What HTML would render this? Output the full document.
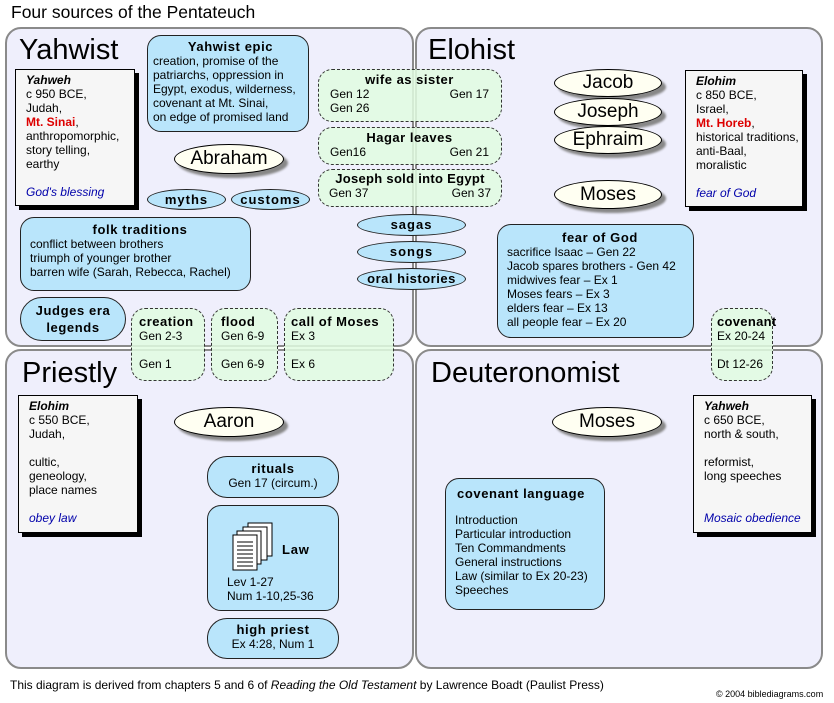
<!DOCTYPE html>
<html><head><meta charset="utf-8"><style>
*{margin:0;padding:0;box-sizing:border-box}
body{width:834px;height:703px;background:#fff;position:relative;font-family:"Liberation Sans",sans-serif;color:#000;overflow:hidden}
.a{position:absolute}
.q{position:absolute;background:#efeffc;border:2px solid #8a8a8a;border-radius:16px}
.t{position:absolute;font-size:29px;line-height:32px}
.info{position:absolute;background:#f6f6f6;border:1px solid #000;box-shadow:4px 4px 0 #000;font-size:12px;line-height:14px;padding:3px 0 0 10px}
.info b{font-style:italic}
.info .r{color:#d00;font-weight:bold}
.info .bl{color:#00a;font-style:italic}
.bb{position:absolute;background:#b9e5fb;border:1px solid #222;border-radius:14px;font-size:12px;line-height:14px}
.bb h{display:block;font-weight:bold;font-size:13px;text-align:center;letter-spacing:.6px}
.pill{position:absolute;background:#b9e5fb;border:1px solid #222;border-radius:50%;font-weight:bold;font-size:13px;text-align:center;letter-spacing:1px}
.g{position:absolute;background:rgba(224,252,224,.85);border:1px dashed #333;border-radius:14px;font-size:12px;line-height:14px}
.g h{display:block;font-weight:bold;font-size:13px;letter-spacing:.5px;white-space:nowrap}
.el{position:absolute;background:#fffff2;border:1px solid #000;border-radius:50%;box-shadow:4px 4px 2px #888;font-size:19px;text-align:center}
</style></head><body>
<div class="a" style="left:11px;top:2px;font-size:17.5px">Four sources of the Pentateuch</div>

<div class="q" style="left:5px;top:27px;width:409px;height:320px"></div>
<div class="q" style="left:415px;top:27px;width:408px;height:320px"></div>
<div class="q" style="left:5px;top:349px;width:409px;height:320px"></div>
<div class="q" style="left:415px;top:349px;width:408px;height:320px"></div>

<div class="t" style="left:19px;top:34px">Yahwist</div>
<div class="t" style="left:428px;top:34px">Elohist</div>
<div class="t" style="left:22px;top:357px">Priestly</div>
<div class="t" style="left:431px;top:357px">Deuteronomist</div>

<div class="info" style="left:15px;top:69px;width:120px;height:137px"><b>Yahweh</b><br>c 950 BCE,<br>Judah,<br><span class="r">Mt. Sinai</span>,<br>anthropomorphic,<br>story telling,<br>earthy<br><br><span class="bl">God's blessing</span></div>
<div class="info" style="left:685px;top:70px;width:118px;height:137px"><b>Elohim</b><br>c 850 BCE,<br>Israel,<br><span class="r">Mt. Horeb</span>,<br>historical traditions,<br>anti-Baal,<br>moralistic<br><br><span class="bl">fear of God</span></div>
<div class="info" style="left:18px;top:395px;width:120px;height:138px"><b>Elohim</b><br>c 550 BCE,<br>Judah,<br><br>cultic,<br>geneology,<br>place names<br><br><span class="bl">obey law</span></div>
<div class="info" style="left:693px;top:395px;width:119px;height:138px"><b>Yahweh</b><br>c 650 BCE,<br>north &amp; south,<br><br>reformist,<br>long speeches<br><br><br><span class="bl">Mosaic obedience</span></div>

<div class="bb" style="left:147px;top:35px;width:162px;height:97px;padding:4px 0 0 5px"><h>Yahwist epic</h>creation, promise of the<br>patriarchs, oppression in<br>Egypt, exodus, wilderness,<br>covenant at Mt. Sinai,<br>on edge of promised land</div>
<div class="el" style="left:174px;top:144px;width:110px;height:30px;line-height:28px">Abraham</div>
<div class="pill" style="left:147px;top:189px;width:79px;height:21px;line-height:19px">myths</div>
<div class="pill" style="left:231px;top:189px;width:79px;height:21px;line-height:19px">customs</div>
<div class="bb" style="left:20px;top:217px;width:231px;height:74px;padding:5px 0 0 9px"><h>folk traditions</h>conflict between brothers<br>triumph of younger brother<br>barren wife (Sarah, Rebecca, Rachel)</div>
<div class="bb" style="left:20px;top:297px;width:106px;height:44px;border-radius:22px;padding-top:4px"><h style="font-size:13px;line-height:17px">Judges era<br>legends</h></div>

<div class="g" style="left:318px;top:69px;width:184px;height:53px;padding:3px 12px 0 11px"><h style="text-align:center">wife as sister</h><span>Gen 12</span><span style="float:right">Gen 17</span><br>Gen 26</div>
<div class="g" style="left:318px;top:127px;width:184px;height:38px;padding:3px 12px 0 11px"><h style="text-align:center">Hagar leaves</h><span>Gen16</span><span style="float:right">Gen 21</span></div>
<div class="g" style="left:318px;top:169px;width:184px;height:38px;padding:2px 10px 0 10px"><h style="text-align:center;letter-spacing:.3px">Joseph sold into Egypt</h><span>Gen 37</span><span style="float:right">Gen 37</span></div>

<div class="pill" style="left:357px;top:214px;width:109px;height:22px;line-height:20px">sagas</div>
<div class="pill" style="left:357px;top:241px;width:109px;height:22px;line-height:20px">songs</div>
<div class="pill" style="left:357px;top:268px;width:109px;height:22px;line-height:20px;letter-spacing:.5px">oral histories</div>

<div class="g" style="left:131px;top:308px;width:74px;height:73px;padding:6px 0 0 7px"><h>creation</h>Gen 2-3<br><br>Gen 1</div>
<div class="g" style="left:211px;top:308px;width:67px;height:73px;padding:6px 0 0 9px"><h>flood</h>Gen 6-9<br><br>Gen 6-9</div>
<div class="g" style="left:284px;top:308px;width:110px;height:73px;padding:6px 0 0 6px"><h>call of Moses</h>Ex 3<br><br>Ex 6</div>
<div class="g" style="left:711px;top:308px;width:62px;height:73px;padding:6px 0 0 5px"><h style="letter-spacing:.3px">covenant</h>Ex 20-24<br><br>Dt 12-26</div>

<div class="el" style="left:554px;top:69px;width:108px;height:28px;line-height:26px">Jacob</div>
<div class="el" style="left:554px;top:98px;width:108px;height:28px;line-height:26px">Joseph</div>
<div class="el" style="left:554px;top:126px;width:108px;height:28px;line-height:26px">Ephraim</div>
<div class="el" style="left:554px;top:180px;width:108px;height:29px;line-height:27px">Moses</div>

<div class="bb" style="left:497px;top:224px;width:197px;height:114px;padding:6px 0 0 9px"><h>fear of God</h>sacrifice Isaac – Gen 22<br>Jacob spares brothers - Gen 42<br>midwives fear – Ex 1<br>Moses fears – Ex 3<br>elders fear – Ex 13<br>all people fear – Ex 20</div>

<div class="el" style="left:174px;top:407px;width:110px;height:30px;line-height:28px">Aaron</div>
<div class="bb" style="left:207px;top:456px;width:132px;height:42px;border-radius:20px;text-align:center;padding-top:5px"><h>rituals</h>Gen 17 (circum.)</div>
<div class="bb" style="left:207px;top:505px;width:132px;height:106px;padding-left:19px">
<svg class="a" style="left:24px;top:15px" width="44" height="52" viewBox="0 0 44 52">
<rect x="16" y="2" width="24" height="33" fill="#fff" stroke="#000"/>
<rect x="11" y="6" width="24" height="33" fill="#fff" stroke="#000"/>
<rect x="5" y="10" width="24" height="33" fill="#fff" stroke="#000"/>
<rect x="1" y="14" width="24" height="35" fill="#fff" stroke="#000"/>
<path d="M5 21H21M5 25H21M5 29H21M5 33H21M5 37H21M5 41H21M5 45H21" stroke="#000"/>
</svg>
<div class="a" style="left:74px;top:37px;font-weight:bold;font-size:13px;letter-spacing:.8px">Law</div>
<div class="a" style="left:19px;top:69px">Lev 1-27<br>Num 1-10,25-36</div></div>
<div class="bb" style="left:207px;top:618px;width:132px;height:41px;border-radius:20px;text-align:center;padding-top:4px"><h>high priest</h>Ex 4:28, Num 1</div>

<div class="el" style="left:552px;top:407px;width:110px;height:30px;line-height:28px">Moses</div>
<div class="bb" style="left:445px;top:478px;width:160px;height:132px;padding:8px 0 0 9px"><h style="text-align:left;padding-left:2px">covenant language</h><div style="height:12px"></div>Introduction<br>Particular introduction<br>Ten Commandments<br>General instructions<br>Law (similar to Ex 20-23)<br>Speeches</div>

<div class="a" style="left:10px;top:678px;font-size:12px">This diagram is derived from chapters 5 and 6 of <i>Reading the Old Testament</i> by Lawrence Boadt (Paulist Press)</div>
<div class="a" style="left:716px;top:689px;font-size:9px">© 2004 biblediagrams.com</div>
</body></html>
